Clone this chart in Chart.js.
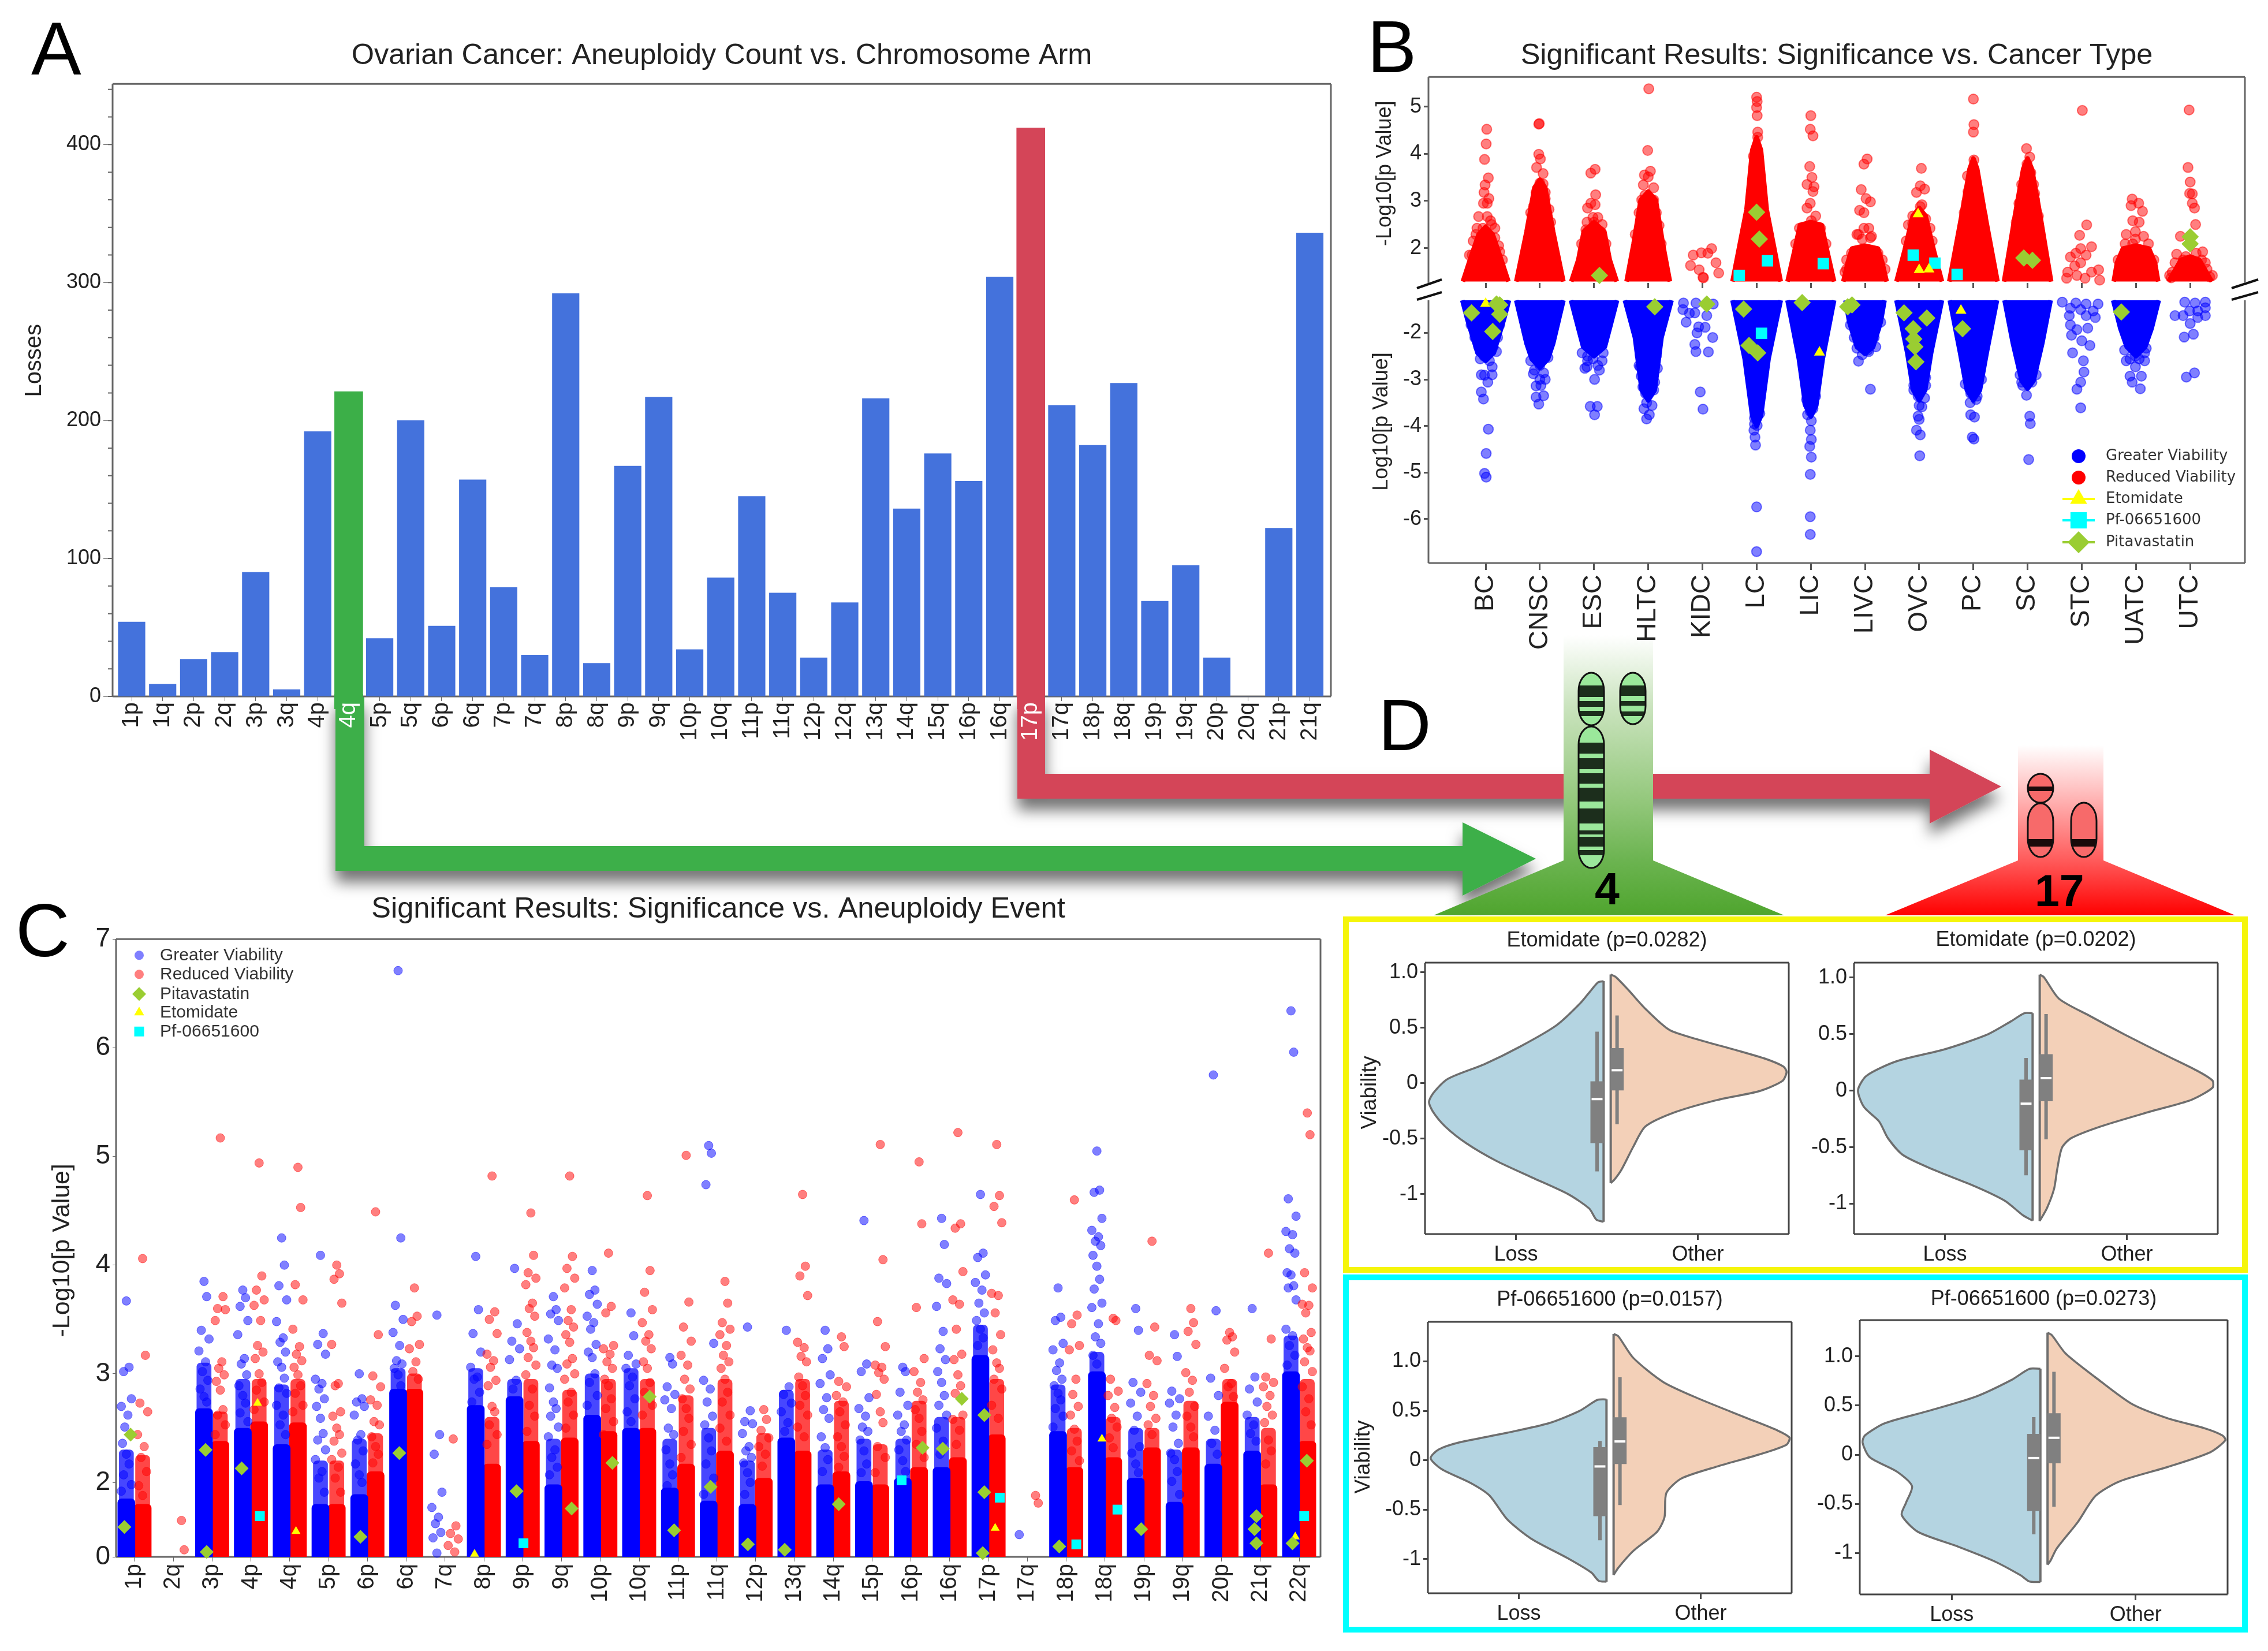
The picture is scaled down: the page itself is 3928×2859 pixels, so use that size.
<!DOCTYPE html>
<html>
<head>
<meta charset="utf-8">
<title>Aneuploidy figure</title>
<script src="https://cdn.jsdelivr.net/npm/chart.js@4/dist/chart.umd.js"></script>
<style>
  html, body { margin: 0; background: #fff; }
  #page { position: relative; width: 3928px; height: 2859px; overflow: hidden; background: #fff; font-family: "Liberation Sans", Arial, sans-serif; }
  #page canvas, #art { position: absolute; }
  .tag { position: absolute; line-height: 1; color: #000; }
</style>
</head>
<body>
<div id="page">
  <svg id="art" width="3928" height="2859" style="left:0;top:0"></svg>
  <div class="tag" style="left:54px;top:19px;font-size:130px">A</div>
  <div class="tag" style="left:2368px;top:17px;font-size:128px">B</div>
  <div class="tag" style="left:27px;top:1546px;font-size:130px">C</div>
  <div class="tag" style="left:2387px;top:1192px;font-size:127px">D</div>
  <div class="tag" style="left:2762px;top:1501px;font-size:77px;font-weight:bold">4</div>
  <div class="tag" style="left:3524px;top:1504px;font-size:77px;font-weight:bold">17</div>
</div>
<script>
// ---- panel A: losses per chromosome arm
const armLabels = ['1p','1q','2p','2q','3p','3q','4p','4q','5p','5q','6p','6q','7p','7q','8p','8q','9p','9q','10p','10q','11p','11q','12p','12q','13q','14q','15q','16p','16q','17p','17q','18p','18q','19p','19q','20p','20q','21p','21q'];
const armLosses = [54,9,27,32,90,5,192,221,42,200,51,157,79,30,292,24,167,217,34,86,145,75,28,68,216,136,176,156,304,412,211,182,227,69,95,28,0,122,336];
const armHighlights = ['4q','17p'];
const armHighlightColors = ['#3CAF48','#D44558'];

// ---- panel B: cancer types, dense swarm outlines (half widths in category units)
const cancerTypes = ['BC','CNSC','ESC','HLTC','KIDC','LC','LIC','LIVC','OVC','PC','SC','STC','UATC','UTC'];
const bRedBaseW = [.44,.455,.44,.42,null,.465,.45,.42,.44,.465,.455,null,.43,.42];
const bRedMidY  = [1.75,2.35,1.75,2.09,null,2.82,1.95,1.69,1.95,2.68,2.68,null,1.69,1.49];
const bRedMidW  = [.29,.245,.29,.27,null,.186,.30,.32,.27,.22,.235,null,.35,.30];
const bRedTopY  = [2.29,3.28,2.35,3.02,null,4.08,2.49,1.99,2.68,3.68,3.68,null,1.99,1.75];
const bRedTopW  = [.13,.1,.19,.14,null,.08,.2,.24,.12,.07,.08,null,.24,.17];
const bRedApexY = [2.45,3.45,2.55,3.2,null,4.35,2.55,2.05,2.85,3.9,3.9,null,2.05,1.82];
const bBlueBaseW = [.45,.455,.445,.45,null,.465,.45,.38,.44,.455,.445,null,.44,null];
const bBlueMidY  = [-1.70,-2.23,-1.9,-2.1,null,-2.56,-2.56,-1.77,-2.43,-2.43,-2.23,null,-1.9,null];
const bBlueMidW  = [.34,.245,.29,.245,null,.22,.22,.29,.22,.245,.27,null,.29,null];
const bBlueTipY  = [-2.43,-2.56,-2.3,-3.23,null,-3.79,-3.56,-2.3,-3.23,-3.23,-3.03,null,-2.3,null];
const bBlueTipW  = [.15,.15,.2,.12,null,.08,.1,.15,.11,.12,.11,null,.17,null];
const bBlueApexY = [-2.6,-2.75,-2.5,-3.45,null,-4,-3.8,-2.45,-3.45,-3.45,-3.2,null,-2.5,null];

const bRedDots = [
  [.02,4.52],[.01,4.21],[-.02,3.88],[.05,3.49],[-.01,3.34],[-.03,3.18],[.06,3.05],[.03,2.95],[-.04,2.95],[-.13,2.67],[.03,2.67],[-.16,2.42],[.11,2.5],[-.23,2.15],[-.25,1.85],[.17,2.22],[.26,1.92],
  [-.18,2.29],[.17,2.42],[.09,2.58],[-.05,2.42],[.04,2.29],[-.1,2.15],[.24,2.05],[-.3,1.85],[.31,1.75],
  [.98,4.63],[.99,4.64],[.98,3.99],[1.01,3.89],[.94,3.71],[1.06,3.58],[1.06,3.36],[.98,3.22],[1.1,3.18],
  [.93,3.18],[1.1,3.05],[.88,2.88],[1.17,2.82],[.83,2.75],[1.2,2.55],[1,3.38],
  [1.94,3.59],[2.02,3.67],[2.03,3.13],[1.94,2.95],[1.88,2.85],[2.02,2.92],[1.98,2.65],[1.87,2.55],[2.15,2.5],[1.85,2.39],
  [2.07,2.65],[1.88,2.35],[2.12,2.35],[1.77,2.09],[2.22,2.09],[2,2.55],
  [3.01,5.38],[2.99,4.07],[3.04,3.63],[2.93,3.55],[3,3.51],[2.91,3.34],[3.1,3.28],[2.94,3.12],[2.88,3.02],
  [3.1,3.02],[2.93,2.95],[3.15,2.75],[2.83,2.75],[3.2,2.48],[2.76,2.29],[3.24,2.09],
  [4.17,1.99],[3.98,1.9],[3.83,1.85],[4.1,1.89],[3.78,1.63],[4.25,1.69],[3.94,1.54],[4.3,1.47],[4.02,1.37],[4.01,1.38],
  [5,5.2],[5.01,5.11],[5,4.98],[5.01,4.81],[5.02,4.46],[5.02,4.35],[5.01,4.08],[4.96,3.81],[5.03,3.68],[4.94,3.95],
  [6,4.81],[5.99,4.52],[6.04,4.38],[5.98,3.73],[6.02,3.5],[5.93,3.35],[6.06,3.3],[6.04,3.2],[5.99,2.95],[5.93,2.85],[6.09,2.68],[6.01,2.58],
  [5.79,2.42],[6.18,2.42],[5.99,2.49],[5.72,2.09],[6.28,2.09],
  [7.04,3.89],[6.98,3.78],[6.93,3.24],[7.02,3.05],[7.1,2.98],[6.9,2.8],[6.98,2.75],[7.07,2.42],[6.98,2.42],[6.88,2.29],[7.12,2.25],[6.95,2.19],[6.66,1.55],
  [6.85,2.29],[7.1,2.22],[6.75,1.89],[7.24,1.89],[6.66,1.75],[7.32,1.75],[6.63,1.49],[7.37,1.55],
  [8.04,3.69],[8.02,3.32],[7.95,3.18],[8.1,3.25],[8.05,2.92],[7.88,2.52],[7.88,2.68],[8.12,2.62],[7.8,2.49],[8.2,2.42],[7.76,2.15],[8.24,2.15],[8.02,2.88],
  [9,5.16],[9.01,4.62],[9,4.46],[9.01,3.87],[8.98,3.55],[8.89,3.53],[8.95,3.35],[8.9,3.2],[9.05,3.15],[8.88,2.98],[8.9,3.02],[9.1,2.95],[8.83,2.75],[9.17,2.68],
  [9.98,4.11],[10.04,3.93],[9.99,3.78],[10.06,3.6],[9.96,3.45],[10.11,3.35],[10.13,3.16],[9.89,3.35],[10.13,3.02],[9.84,2.95],[10.2,2.68],[9.79,2.55],
  [11.01,4.92],[11.09,2.49],[10.96,2.27],[11.18,2.03],[10.98,1.99],[10.89,1.89],[10.79,1.81],[11.08,1.85],[10.74,1.49],[10.87,1.62],[10.98,1.69],[11.31,1.54],[11.18,1.49],[10.72,1.36],[10.91,1.42],[11.06,1.36],[11.33,1.32],
  [11.93,3.04],[12.05,2.95],[11.91,2.9],[12.12,2.78],[11.94,2.58],[12.06,2.55],[11.82,2.29],[12.14,2.25],[11.99,2.35],[11.94,2.09],[11.8,2.09],[12.23,2.09],[11.99,2.19],[11.67,1.75],[12.33,1.75],
  [12.98,4.93],[12.96,3.71],[13,3.4],[12.99,3.16],[13.04,3.15],[13.04,2.95],[13.08,2.85],[13.1,2.5],[12.82,2.25],[12.75,1.87],[12.92,1.82],[13.11,1.89],[13.23,1.92],[12.96,1.69],[12.67,1.49],[13.31,1.55],[12.82,1.55],[13.11,1.62],[13.36,1.39],[12.65,1.37],
  [12.87,1.75],[13.21,1.75],[12.72,1.69],[13.28,1.69],[12.62,1.42],[13.41,1.42]
];
const bBlueDots = [
  [.2,-2.4],[.12,-2.73],[-.08,-2.9],[-.02,-2.91],[.04,-3.06],[-.08,-3.27],[-.04,-3.42],[.05,-4.07],[.01,-4.59],[-.02,-5.02],[.01,-5.1],[-.1,-2.56],[.12,-2.9],
  [-.27,-1.83],[.26,-1.83],[-.2,-2.1],[.22,-2.1],[-.13,-2.3],[.14,-2.3],[-.03,-2.5],[.07,-2.6],
  [.88,-2.88],[1.1,-3],[.93,-3.14],[1.02,-3.13],[.93,-3.38],[1.07,-3.35],[.98,-3.53],[.83,-2.6],[1.15,-2.53],[1,-2.7],[.9,-2.8],[1.07,-2.86],[1,-3],
  [1.87,-2.73],[2.1,-2.8],[2.01,-3],[1.93,-3.58],[2.06,-3.58],[2.01,-3.76],[1.88,-2.5],[2.15,-2.6],[1.78,-2.43],[2.17,-2.43],[1.88,-2.6],[2.07,-2.7],[1.98,-2.56],[1.83,-2.76],
  [2.85,-2.73],[2.87,-2.93],[3.12,-3.06],[2.9,-3.16],[2.99,-3.31],[2.97,-3.5],[3.07,-3.56],[2.92,-3.63],[3.02,-3.76],[2.97,-3.85],[2.85,-2.47],[3.15,-2.5],[2.83,-2.7],[3.17,-2.76],[2.95,-3.3],[3.1,-3.23],
  [3.65,-1.36],[3.88,-1.36],[4.2,-1.38],[3.64,-1.5],[3.76,-1.58],[3.86,-1.57],[4.08,-1.63],[3.7,-1.77],[3.93,-1.87],[4.05,-1.88],[3.9,-2],[4.19,-2.1],[3.86,-2.25],[3.88,-2.4],[4.11,-2.41],[3.96,-3.27],[4.01,-3.64],
  [4.96,-3.96],[5.01,-3.99],[4.95,-4.09],[4.97,-4.24],[4.98,-4.41],[5,-5.74],[5,-6.7],[4.96,-3.83],[5.06,-3.73],
  [5.94,-3.5],[6.04,-3.63],[5.94,-3.76],[6.01,-3.89],[5.99,-4.09],[6.01,-4.29],[5.98,-4.44],[6.01,-4.67],[5.99,-5.04],[5.99,-5.95],[5.99,-6.33],[6.09,-3.36],[5.92,-3.43],[5.99,-3.69],
  [7.1,-3.21],[6.88,-2.61],[6.95,-2.47],[7.07,-2.4],[7.2,-2.3],[7.17,-2.1],[6.73,-1.83],[7.29,-1.77],[6.8,-2.1],[7.2,-1.9],[6.85,-2.33],[7.05,-2.37],
  [8.02,-2.96],[7.9,-3.13],[8.1,-3.4],[8,-3.56],[7.98,-3.79],[7.95,-4.09],[8.02,-4.19],[8.01,-4.64],[8.12,-3.13],[7.9,-3.23],[8.12,-2.96],[7.98,-3.36],[8.05,-3.59],[8,-3.86],
  [8.93,-3.1],[9.07,-3.36],[8.94,-3.5],[8.95,-3.76],[9.02,-3.81],[8.98,-4.24],[9.01,-4.28],[8.85,-3.1],[9.15,-3],[8.95,-3.3],[9.05,-3.43],
  [9.91,-3.13],[9.98,-3.34],[10.04,-3.79],[10.05,-3.95],[10.02,-4.72],[9.86,-2.9],[10.16,-2.9],[9.89,-3.06],[10.08,-3.06],
  [10.64,-1.34],[10.89,-1.36],[11.08,-1.38],[11.3,-1.38],[10.79,-1.47],[10.98,-1.5],[11.21,-1.53],[11.08,-1.63],[10.77,-1.63],[11.25,-1.67],[10.79,-1.83],[10.91,-1.93],[11.11,-1.9],[10.81,-2.05],[11,-2.17],[11.15,-2.27],[10.83,-2.43],[11.03,-2.6],[11.04,-2.84],[10.98,-3.06],[10.91,-3.21],[10.98,-3.61],
  [11.89,-2.56],[12.16,-2.43],[12.06,-2.56],[11.89,-2.93],[12.1,-2.93],[11.93,-3.06],[12.08,-3.2],[11.99,-2.73],[11.79,-2.37],[12.19,-2.33],[11.82,-2.6],[12.16,-2.6],[11.99,-2.5],
  [12.9,-1.34],[13.09,-1.36],[13.28,-1.34],[13.28,-1.46],[12.99,-1.53],[13.14,-1.53],[12.72,-1.63],[12.87,-1.63],[13.14,-1.67],[13.28,-1.63],[13,-1.8],[12.89,-2.09],[13.06,-2.03],[12.93,-2.95],[13.08,-2.86]
];
const bPitaDots = [[-.26,-1.57],[.26,-1.4],[.2,-1.38],[.26,-1.6],[.13,-1.97],[2.1,1.42],[3.12,-1.44],[4.08,-1.38],[5,2.76],[5.05,2.19],[4.76,-1.49],[4.86,-2.27],[5.02,-2.43],[5.84,-1.35],[6.76,-1.4],[6.68,-1.44],[7.72,-1.57],[8.14,-1.68],[7.89,-1.91],[7.9,-2.13],[7.92,-2.3],[7.94,-2.62],[8.8,-1.91],[9.93,1.79],[10.09,1.74],[11.73,-1.55],[13,2.24],[13,2.09]];
const bEtoDots = [[0,-1.37],[6.16,-2.42],[7.98,2.72],[8,1.54],[8.18,1.55],[8.77,-1.52]];
const bPfDots = [[4.68,1.42],[5.2,1.73],[5.09,-2.01],[6.23,1.67],[7.89,1.85],[8.29,1.68],[8.7,1.44]];

// ---- panel C: aneuploidy events, solid column, thinner half dense column, then loose points above
const eventLabels = ['1p','2q','3p','4p','4q','5p','6p','6q','7q','8p','9p','9q','10p','10q','11p','11q','12p','13q','14q','15p','16p','16q','17p','17q','18p','18q','19p','19q','20p','21q','22q'];
const cBlueTop = [1.85,null,2.68,2.5,2.35,1.8,1.89,2.86,null,2.71,2.79,1.98,2.62,2.5,1.95,1.83,1.8,2.41,1.98,2.01,2.04,2.14,3.17,null,2.47,3.02,2.04,1.82,2.17,2.29,3.02];
const cRedTop  = [1.8,null,2.38,2.56,2.55,1.8,2.1,2.86,null,2.17,2.38,2.41,2.47,2.5,2.17,2.29,2.04,2.29,2.1,1.98,2.14,2.23,2.44,null,2.14,2.23,2.32,2.32,2.74,1.98,2.38];
const cBlueHalf = [2.3,null,3.1,2.95,2.9,2.2,2.4,3.05,null,3.05,2.95,2.4,3,3.05,2.4,2.5,2.2,2.85,2.3,2.4,2.4,2.6,3.45,null,2.9,3.2,2.5,2.3,2.4,2.6,3.35];
const cRedHalf  = [2.25,null,2.65,2.95,2.95,2.2,2.45,3,null,2.6,2.95,2.85,2.95,2.95,2.8,2.95,2.45,2.95,2.75,2.35,2.75,2.6,2.95,null,2.5,2.6,2.5,2.75,2.95,2.5,2.95];
const cBlueDots = [
  [3.67,3.06,3.02,2.77,2.7,2.62,2.51,2.44,2.36,2.26,2.17,2.07,1.98,1.92],
  [],
  [3.85,3.71,3.4,3.32,3.21,3.11,3.02,2.94,2.86,2.79,2.74],
  [3.77,3.7,3.62,3.49,3.36,3.14,3.09,2.99,2.89,2.8,2.73,2.64,2.56],
  [4.25,4,3.81,3.68,3.48,3.33,3.29,3.2,3.11,3.06,2.96,2.87,2.82,2.71,2.62,2.53,2.44],
  [4.09,3.37,3.27,3.18,2.95,2.91,2.86,2.77,2.7,2.59,2.45,2.39,2.3,2.21,2.1,2.04,1.91],
  [3,2.77,2.74,2.7,2.62,2.44,2.39,2.29,2.17,2.07,2],
  [6.71,4.25,3.63,3.5,3.38,3.26,3.12,3.09,3.05,2.99,2.89],
  [3.54,2.44,2.26,1.91,1.77,1.68,1.62,1.54,1.49,1.35],
  [4.08,3.59,3.37,3.2,3.06,2.97,2.95,2.83,2.74],
  [3.97,3.46,3.3,3.23,3.13,2.94,2.86],
  [3.71,3.59,3.55,3.49,3.32,3.22,3.08,3.05,2.87,2.74,2.68,2.61,2.51,2.42,2.3,2.23,2.14,2.07],
  [3.95,3.77,3.73,3.64,3.53,3.47,3.41,3.27,3.2,3.15,3,2.92,2.8,2.71],
  [3.56,3.35,3.17,3.09,3.05,2.97,2.89,2.77,2.65,2.56],
  [3.15,3.09,2.88,2.81,2.76,2.68,2.5,2.44,2.3,2.17,2.07,1.97],
  [5.1,5.03,4.74,3.28,2.94,2.86,2.74,2.61,2.53,2.41,2.29,2.17,2.04,1.89],
  [3.43,2.66,2.56,2.54,2.45,2.33,2.29,2.23,2.18,2.09,2,1.89],
  [3.4,2.88,2.81,2.73,2.65,2.55,2.47],
  [3.4,3.23,3.14,2.99,2.91,2.78,2.67,2.59,2.42,2.32,2.21,2.1],
  [4.41,3.09,3.02,2.78,2.68,2.61,2.51,2.47,2.39,2.29,2.17,2.09],
  [3.06,3.02,2.83,2.71,2.62,2.53,2.47,2.39,2.3,2.2,2.1],
  [4.43,4.19,3.88,3.83,3.62,3.39,3.23,3.13,3.02,2.92,2.8,2.71,2.62,2.5,2.38,2.26],
  [4.65,4.11,4.07,3.91,3.84,3.77,3.65,3.56,3.49,3.41,3.33,3.26],
  [1.52],
  [3.79,3.52,3.49,3.28,3.22,3.1,3.03,2.95,2.89,2.82,2.76,2.68,2.61,2.51],
  [5.05,4.69,4.67,4.43,4.32,4.26,4.22,4.18,4.09,3.99,3.87,3.78,3.65,3.61,3.46,3.34,3.28,3.17,3.09],
  [3.6,3.4,2.92,2.83,2.73,2.61,2.48,2.33,2.27,2.17,2.09],
  [3.36,3.16,2.84,2.77,2.73,2.62,2.51,2.36,2.27,2.21,2.1,2.01,1.89],
  [5.75,3.58,2.96,2.8,2.61,2.48,2.36,2.26],
  [3.6,2.97,2.86,2.74,2.62,2.53,2.45,2.38],
  [6.34,5.96,4.61,4.45,4.31,4.28,4.15,4.11,3.93,3.91,3.81,3.79,3.68,3.41,3.35,3.26,3.17,3.08]
];
const cRedDots = [
  [4.06,3.17,2.73,2.65,2.44,2.33,2.23,2.1,1.97,1.88],
  [1.65,1.38],
  [5.17,3.71,3.6,3.59,3.49,3.11,3.05,2.99,2.93,2.85,2.67,2.62,2.53,2.44],
  [4.94,3.9,3.77,3.68,3.63,3.49,3.26,3.2,3.14,3,2.92,2.85,2.74,2.67],
  [4.9,4.53,3.82,3.68,3.41,3.25,3.18,3.12,3.06,2.99,2.89,2.82,2.71,2.65],
  [4,3.92,3.87,3.65,3.27,2.91,2.89,2.65,2.61,2.5,2.44,2.38,2.27,2.21,2.14,2.04,1.91],
  [4.49,3.36,2.98,2.88,2.76,2.71,2.56,2.53,2.42,2.33,2.26,2.18],
  [3.79,3.53,3.48,3.27,3.23,3.11,3.02,2.95],
  [2.4,1.6,1.53,1.48,1.42,1.36],
  [4.82,3.57,3.5,3.37,3.18,3.12,3.06,2.94,2.89,2.7,2.65,2.53,2.44,2.35],
  [4.48,4.09,3.93,3.88,3.82,3.65,3.6,3.53,3.38,3.3,3.24,3.15,3.08,2.99,2.86,2.71,2.61,2.47],
  [4.82,4.08,3.97,3.88,3.79,3.59,3.49,3.43,3.36,3.29,3.14,3.09,3,2.95,2.83,2.74,2.62,2.5],
  [4.11,3.62,3.56,3.26,3.23,3.18,3.11,3.05,2.95,2.89,2.77,2.68,2.56,2.44],
  [4.64,3.95,3.75,3.59,3.47,3.36,3.3,3.23,3.11,3.05,2.92,2.83,2.71,2.62],
  [5.01,3.66,3.43,3.3,3.17,3.08,2.95,2.86,2.77,2.68,2.59,2.47,2.35,2.23],
  [3.85,3.65,3.47,3.41,3.36,3.26,3.17,3.11,3.05,2.95,2.83,2.74,2.62,2.5,2.38],
  [2.67,2.58,2.48,2.41,2.33,2.26,2.15],
  [4.65,3.99,3.9,3.72,3.29,3.24,3.16,3.11,2.97,2.89,2.8,2.71,2.62,2.51,2.42],
  [3.34,3.25,2.93,2.88,2.8,2.74,2.65,2.53,2.42,2.33,2.24,2.14],
  [5.11,4.05,3.48,3.25,3.08,3.06,3.01,2.95,2.81,2.65,2.55,2.33,2.23,2.09],
  [4.95,4.38,3.61,3.14,3.02,2.92,2.83,2.76,2.67,2.59,2.47,2.35,2.23],
  [5.22,4.38,4.34,3.94,3.68,3.64,3.41,3.18,3.13,2.99,2.89,2.82,2.62,2.58,2.48,2.35],
  [5.11,4.64,4.54,4.39,3.74,3.72,3.56,3.36,3.22,3.1,3.05,2.95,2.86,2.71,2.59],
  [1.88,1.81],
  [4.6,3.54,3.46,3.26,3.22,2.95,2.81,2.7,2.62,2.49,2.38,2.29,2.2],
  [3.51,3.49,2.95,2.84,2.8,2.69,2.59,2.51,2.41,2.32],
  [4.22,3.43,3.17,3.12,2.91,2.8,2.7,2.59,2.53,2.44],
  [3.6,3.47,3.39,3.27,3.01,2.94,2.83,2.7,2.61,2.51,2.42],
  [3.38,3.34,3.31,3.2,3.05,2.91,2.88,2.79],
  [4.11,3.32,2.97,2.92,2.88,2.8,2.7,2.62,2.55,2.39,2.29,2.17],
  [5.4,5.2,3.93,3.79,3.64,3.63,3.56,3.38,3.32,3.24,3.21,3.11,3.02,2.88,2.77,2.65,2.53]
];
const cPitaDots = [[-.26,1.59],[-.1,2.44],[1.86,1.36],[1.83,2.3],[2.76,2.13],[5.82,1.5],[6.82,2.27],[9.84,1.92],[11.26,1.76],[12.31,2.18],[13.27,2.79],[13.9,1.56],[14.84,1.96],[15.8,1.43],[16.75,1.38],[18.14,1.8],[20.3,2.32],[20.82,2.31],[21.31,2.77],[21.89,2.62],[21.89,1.91],[21.85,1.35],[23.82,1.41],[25.93,1.57],[28.9,1.69],[28.85,1.57],[28.9,1.44],[29.83,1.44],[30.2,2.2]];
const cEtoDots = [[3.17,2.73],[4.16,1.55],[8.76,1.34],[22.17,1.58],[24.92,2.4],[29.9,1.5]];
const cPfDots = [[3.23,1.69],[10.02,1.44],[19.76,2.02],[22.29,1.86],[24.26,1.43],[25.32,1.75],[30.13,1.69]];
const swarmOffset = [0,.07,-.07,.13,-.13,.04,-.04,.1,-.1];

// ---- panel D violins. Y = viability, W = half violin width on the x axis
const v1LossY = [.92,.91,.85,.72,.52,.33,.17,.04,-.09,-.17,-.26,-.39,-.54,-.70,-.85,-1,-1.13,-1.23,-1.25];
const v1LossW = [0,.03,.063,.129,.261,.459,.657,.855,.937,.96,.937,.871,.756,.59,.393,.195,.079,.04,0];
const v1OtherY = [.98,.96,.85,.67,.48,.39,.30,.22,.15,.10,.02,-.07,-.15,-.26,-.39,-.57,-.78,-.87,-.90];
const v1OtherW = [0,.026,.092,.191,.323,.488,.686,.851,.95,.967,.944,.82,.588,.356,.191,.125,.059,.02,0];
const v1LossBox = [-.795,-.54,-.143,.017,.465];
const v1OtherBox = [-.37,-.065,.117,.317,.61];

const v2LossY = [.685,.685,.613,.494,.366,.26,.132,.004,-.145,-.272,-.421,-.57,-.698,-.847,-.974,-1.102,-1.149];
const v2LossW = [0,.046,.119,.252,.483,.748,.913,.96,.927,.844,.795,.712,.546,.315,.152,.053,0];
const v2OtherY = [1.026,1.004,.813,.664,.494,.306,.174,.089,.026,-.081,-.187,-.315,-.421,-.506,-.698,-.868,-1.038,-1.153];
const v2OtherW = [0,.023,.106,.272,.47,.702,.868,.95,.95,.834,.603,.338,.172,.122,.096,.079,.04,0];
const v2LossBox = [-.749,-.528,-.115,.098,.289];
const v2OtherBox = [-.43,-.094,.111,.323,.677];

const v3LossY = [.615,.61,.498,.376,.278,.18,.107,.02,-.088,-.234,-.356,-.6,-.795,-.99,-1.137,-1.22,-1.229];
const v3LossW = [0,.05,.149,.314,.545,.809,.924,.967,.908,.743,.644,.545,.413,.215,.083,.043,0];
const v3OtherY = [1.278,1.254,1.034,.79,.62,.424,.302,.229,.156,.059,-.063,-.185,-.332,-.576,-.722,-.917,-1.088,-1.161];
const v3OtherW = [0,.026,.109,.274,.472,.736,.9,.967,.95,.802,.571,.373,.29,.28,.24,.109,.026,0];
const v3LossBox = [-.81,-.566,-.063,.132,.195];
const v3OtherBox = [-.454,-.039,.19,.434,.839];

const v4LossY = [.873,.873,.76,.588,.441,.319,.196,.123,-.025,-.172,-.319,-.49,-.613,-.784,-.931,-1.078,-1.225,-1.289,-1.294];
const v4LossW = [0,.059,.157,.354,.616,.846,.954,.967,.928,.78,.698,.731,.754,.666,.452,.256,.108,.059,0];
const v4OtherY = [1.24,1.216,1.029,.784,.515,.368,.27,.196,.147,.025,-.123,-.27,-.417,-.686,-.956,-1.078,-1.118];
const v4OtherW = [0,.023,.098,.262,.459,.656,.852,.951,.967,.885,.656,.393,.262,.164,.049,.016,0];
const v4LossBox = [-.809,-.574,-.034,.211,.382];
const v4OtherBox = [-.529,-.088,.172,.422,.843];

const violinTicks = [-1,-.5,0,.5,1];
const violinGroups = ['Loss','Other'];

const BLUE = 'rgba(0,0,255,.5)', RED = 'rgba(255,0,0,.5)';
const PITA = '#9ACD32', ETO = '#FFFF00', PF = '#00FFFF';

Chart.defaults.font.family = '"Liberation Sans", Arial, sans-serif';
Chart.defaults.color = '#222';
Chart.defaults.animation = false;

// frame, minor ticks, side label and inset key live here so all panels share them
const panelExtras = {
  id: 'panelExtras',
  beforeDatasetsDraw(chart, args, o) {
    const { ctx, chartArea: a } = chart;
    ctx.save();
    ctx.strokeStyle = o.frameColor || '#666';
    ctx.lineWidth = o.frameWidth || 3;
    const sides = o.sides || 'ltrb';
    ctx.beginPath();
    if (sides.includes('l')) { ctx.moveTo(a.left, a.top); ctx.lineTo(a.left, a.bottom); }
    if (sides.includes('r')) { ctx.moveTo(a.right, a.top); ctx.lineTo(a.right, a.bottom); }
    if (sides.includes('t')) { ctx.moveTo(a.left, a.top); ctx.lineTo(a.right, a.top); }
    if (sides.includes('b')) { ctx.moveTo(a.left, a.bottom); ctx.lineTo(a.right, a.bottom); }
    ctx.stroke();
    if (o.minorStep) {
      const y = chart.scales.y;
      ctx.beginPath();
      for (let v = 0; v <= y.max; v += o.minorStep) {
        ctx.moveTo(a.left, y.getPixelForValue(v));
        ctx.lineTo(a.left - 8, y.getPixelForValue(v));
      }
      ctx.lineWidth = 2;
      ctx.stroke();
    }
    ctx.restore();
  },
  afterDatasetsDraw(chart, args, o) {
    const { ctx, chartArea: a } = chart;
    (o.stems || []).forEach(s => {
      ctx.fillStyle = s.color;
      ctx.fillRect(chart.scales.x.getPixelForValue(s.index) - s.half, a.bottom - 4, s.half * 2, 26);
    });
  },
  afterDraw(chart, args, o) {
    const { ctx } = chart;
    const box = chart.canvas.getBoundingClientRect();
    const page = chart.canvas.parentNode.getBoundingClientRect();
    const ox = box.left - page.left, oy = box.top - page.top;
    ctx.save();
    if (o.side) {
      ctx.translate(o.side.x - ox, o.side.y - oy);
      ctx.rotate(-Math.PI / 2);
      ctx.font = o.side.size + 'px "Liberation Sans", Arial, sans-serif';
      ctx.fillStyle = '#222';
      ctx.textAlign = 'center';
      ctx.textBaseline = 'middle';
      ctx.fillText(o.side.text, 0, 0);
    }
    ctx.restore();
    ctx.save();
    (o.key || []).forEach(k => {
      const x = k.x - ox, y = k.y - oy;
      if (k.wing) {
        ctx.strokeStyle = k.color;
        ctx.lineWidth = 4;
        ctx.beginPath();
        ctx.moveTo(x - k.wing, y);
        ctx.lineTo(x + k.wing, y);
        ctx.stroke();
      }
      ctx.fillStyle = k.color;
      Chart.helpers.drawPoint(ctx, { pointStyle: k.style, radius: k.radius, rotation: 0, borderWidth: 0 }, x, y);
      ctx.font = k.font;
      ctx.fillStyle = '#333';
      ctx.textAlign = 'left';
      ctx.textBaseline = 'middle';
      ctx.fillText(k.label, k.textX - ox, y);
    });
    ctx.restore();
  }
};

function fixHeight(h) {
  return s => { s.height = h; s.paddingLeft = 0; s.paddingRight = 0; s.paddingTop = 0; s.paddingBottom = 0; };
}
function fixWidth(w) {
  return s => { s.width = w; s.paddingTop = 0; s.paddingBottom = 0; s.paddingLeft = 0; s.paddingRight = 0; };
}
function setTicks(values) {
  return s => { s.ticks = values.map(value => ({ value })); };
}

// plot = [left, top, width, height] in page pixels, so each frame lands where the figure has it
function panel({ plot, left, right, bottom, top = 0, title, type = 'scatter', data, scales, extras, labels }) {
  const [px, py, pw, ph] = plot;
  const canvas = document.createElement('canvas');
  const cTop = title ? title.y - title.size / 2 : py - top;
  const cH = py + ph + bottom - cTop;
  canvas.width = pw + left + right;
  canvas.height = cH;
  canvas.style.cssText = `left:${px - left}px;top:${cTop}px;width:${pw + left + right}px;height:${cH}px`;
  document.getElementById('page').appendChild(canvas);
  scales.x.afterFit = fixHeight(bottom);
  scales.y.afterFit = fixWidth(left);
  return new Chart(canvas, {
    type,
    data: { labels, datasets: data },
    options: {
      responsive: false,
      devicePixelRatio: 1,
      layout: { padding: { left: 0, right, top: title ? 0 : top, bottom: 0 } },
      scales,
      plugins: {
        legend: { display: false },
        tooltip: { enabled: false },
        title: title ? {
          display: true, text: title.text, fullSize: false, color: '#222',
          font: { size: title.size, weight: 'normal', lineHeight: 1 },
          padding: { top: 0, bottom: py - title.y - title.size / 2 }
        } : { display: false },
        panelExtras: extras
      }
    },
    plugins: [panelExtras]
  });
}

function dots(points, color, radius, style = 'circle', border = 0, order = 5) {
  return {
    data: points.map(p => ({ x: p[0], y: p[1] })),
    showLine: false, clip: false, order,
    pointStyle: style, pointRadius: radius,
    pointBackgroundColor: color, pointBorderColor: color, pointBorderWidth: border
  };
}
function shape(points, color, line, order, tension = 0) {
  return {
    data: points.map(p => ({ x: p[0], y: p[1] })),
    showLine: true, fill: 'shape', clip: false, order, tension,
    backgroundColor: color, borderColor: line, borderWidth: 8, borderJoinStyle: 'round',
    pointRadius: 0
  };
}
function seg(x1, y1, x2, y2, color, width, order) {
  return {
    data: [{ x: x1, y: y1 }, { x: x2, y: y2 }],
    showLine: true, fill: false, clip: false, order,
    borderColor: color, borderWidth: width, borderCapStyle: 'butt', pointRadius: 0
  };
}

// ---- panel A
const armIsHot = a => armHighlights.includes(a);
panel({
  plot: [195, 145, 2110, 1061], left: 159, right: 10, bottom: 110, type: 'bar',
  title: { text: 'Ovarian Cancer: Aneuploidy Count vs. Chromosome Arm', size: 50.5, y: 97 },
  data: [
    {
      data: armLosses.map((y, x) => ({ x, y })).filter(p => !armIsHot(armLabels[p.x])),
      backgroundColor: '#4472DC', barThickness: 46.5, grouped: false
    },
    {
      data: armLosses.map((y, x) => ({ x, y })).filter(p => armIsHot(armLabels[p.x])),
      backgroundColor: armHighlightColors, barThickness: 49, grouped: false
    }
  ],
  scales: {
    x: {
      type: 'linear', offset: false, min: -.615, max: 38.68,
      afterBuildTicks: setTicks(armLabels.map((n, i) => i)),
      grid: { offset: false, drawOnChartArea: false, tickLength: 8, tickColor: '#666' }, border: { display: false },
      ticks: {
        autoSkip: false, minRotation: 90, maxRotation: 90, padding: 2, z: 1,
        font: { size: 40 }, callback: v => armLabels[v],
        color: c => armIsHot(armLabels[c.index]) ? '#fff' : '#222'
      }
    },
    y: {
      min: 0, max: 444, afterBuildTicks: setTicks([0, 100, 200, 300, 400]),
      grid: { drawOnChartArea: false, tickLength: 16, tickColor: '#666' }, border: { display: false },
      ticks: { font: { size: 36 }, padding: 4 }
    }
  },
  extras: {
    sides: 'ltrb', minorStep: 20,
    stems: [{ index: 7, half: 25, color: '#3CAF48' }, { index: 29, half: 24, color: '#D44558' }],
    side: { text: 'Losses', x: 60, y: 624, size: 40 }
  }
});

// ---- panel B: the y axis is broken, so upper and lower parts are two charts sharing the x axis
function swarmOutline(c, base, b, midY, midW, topY, topW, apexY) {
  return [[c - b, base], [c - midW, midY], [c - topW, topY], [c, apexY], [c + topW, topY], [c + midW, midY], [c + b, base]];
}
const bUpper = [];
const bLower = [];
cancerTypes.forEach((name, c) => {
  if (bRedBaseW[c] !== null) bUpper.push(shape(swarmOutline(c, 1.29, bRedBaseW[c] - .02, bRedMidY[c], bRedMidW[c], bRedTopY[c], bRedTopW[c], bRedApexY[c]), '#FF0000', '#FF0000', 6));
  if (bBlueBaseW[c] !== null) bLower.push(shape(swarmOutline(c, -1.3, bBlueBaseW[c] - .02, bBlueMidY[c], bBlueMidW[c], bBlueTipY[c], bBlueTipW[c], bBlueApexY[c]), '#0000FF', '#0000FF', 6));
});
const isUp = p => p[1] > 0, isDown = p => p[1] < 0;
bUpper.push(
  dots(bRedDots, RED, 8.5, 'circle', 2),
  dots(bPitaDots.filter(isUp), PITA, 15, 'rectRot', 0, 1),
  dots(bEtoDots.filter(isUp), ETO, 11, 'triangle', 0, 1),
  dots(bPfDots.filter(isUp), PF, 14, 'rect', 0, 1)
);
bLower.push(
  dots(bBlueDots, BLUE, 8.5, 'circle', 2),
  dots(bPitaDots.filter(isDown), PITA, 15, 'rectRot', 0, 1),
  dots(bEtoDots.filter(isDown), ETO, 11, 'triangle', 0, 1),
  dots(bPfDots.filter(isDown), PF, 14, 'rect', 0, 1)
);
const bTickIdx = cancerTypes.map((n, i) => i);
function bAxisX(showLabels) {
  return {
    type: 'linear', min: -1.055, max: 14.01,
    afterBuildTicks: setTicks(bTickIdx),
    grid: { drawOnChartArea: false, tickLength: showLabels ? 12 : 9, tickColor: '#555', tickWidth: 3 },
    border: { display: false },
    ticks: showLabels
      ? { autoSkip: false, minRotation: 90, maxRotation: 90, padding: 8, font: { size: 46 }, callback: v => cancerTypes[v] }
      : { display: false }
  };
}
panel({
  plot: [2474, 133, 1414, 358], left: 130, right: 30, bottom: 14,
  title: { text: 'Significant Results: Significance vs. Cancer Type', size: 50.5, y: 97 },
  data: bUpper,
  scales: {
    x: bAxisX(false),
    y: {
      min: 1.26, max: 5.63, afterBuildTicks: setTicks([2, 3, 4, 5]),
      grid: { drawOnChartArea: false, tickLength: 8, tickColor: '#555', tickWidth: 3 }, border: { display: false },
      ticks: { font: { size: 36 }, padding: 4 }
    }
  },
  extras: { sides: 'ltr', side: { text: '-Log10[p Value]', x: 2399, y: 300, size: 36 } }
});
panel({
  plot: [2474, 515, 1414, 460], left: 130, right: 30, top: 10, bottom: 170,
  data: bLower,
  scales: {
    x: bAxisX(true),
    y: {
      min: -6.945, max: -1.30, afterBuildTicks: setTicks([-6, -5, -4, -3, -2]),
      grid: { drawOnChartArea: false, tickLength: 8, tickColor: '#555', tickWidth: 3 }, border: { display: false },
      ticks: { font: { size: 36 }, padding: 4 }
    }
  },
  extras: {
    sides: 'lrb', side: { text: 'Log10[p Value]', x: 2393, y: 730, size: 36 },
    key: [
      { label: 'Greater Viability', color: '#0000FF', style: 'circle', radius: 12, x: 3600, y: 790, textX: 3647, font: '26px "DejaVu Sans"' },
      { label: 'Reduced Viability', color: '#FF0000', style: 'circle', radius: 12, x: 3600, y: 827, textX: 3647, font: '26px "DejaVu Sans"' },
      { label: 'Etomidate', color: ETO, style: 'triangle', radius: 17, wing: 28, x: 3600, y: 864, textX: 3647, font: '26px "DejaVu Sans"' },
      { label: 'Pf-06651600', color: PF, style: 'rect', radius: 20, wing: 28, x: 3600, y: 901, textX: 3647, font: '26px "DejaVu Sans"' },
      { label: 'Pitavastatin', color: PITA, style: 'rectRot', radius: 19, wing: 28, x: 3600, y: 939, textX: 3647, font: '26px "DejaVu Sans"' }
    ]
  }
});

// ---- panel C
const cBottom = 1.315;
function cColumn(tops, side, color, width, order) {
  return {
    type: 'bar',
    data: tops.map((t, i) => t === null ? null : { x: i + side, y: [cBottom, t] }).filter(Boolean),
    backgroundColor: color, barThickness: width, grouped: false, order, borderRadius: 7, borderSkipped: 'bottom'
  };
}
function cLoose(lists, side) {
  const out = [];
  lists.forEach((list, i) => list.forEach((y, j) => out.push([i + side + swarmOffset[j % swarmOffset.length], y])));
  return out;
}
panel({
  plot: [201, 1626, 2088, 1070], left: 150, right: 10, bottom: 110,
  title: { text: 'Significant Results: Significance vs. Aneuploidy Event', size: 50.5, y: 1575 },
  data: [
    cColumn(cBlueHalf, -.21, 'rgba(0,0,255,.72)', 25, 7),
    cColumn(cRedHalf, .21, 'rgba(255,0,0,.72)', 25, 7),
    cColumn(cBlueTop, -.21, '#0000FF', 30, 6),
    cColumn(cRedTop, .21, '#FF0000', 30, 6),
    dots(cLoose(cBlueDots, -.21), BLUE, 7.5, 'circle', 1, 5),
    dots(cLoose(cRedDots, .21), RED, 7.5, 'circle', 1, 4),
    dots(cPitaDots, PITA, 12, 'rectRot', 0, 1),
    dots(cEtoDots, ETO, 9, 'triangle', 0, 1),
    dots(cPfDots, PF, 12, 'rect', 0, 1)
  ],
  scales: {
    x: {
      type: 'linear', offset: false, min: -.475, max: 30.55,
      afterBuildTicks: setTicks(eventLabels.map((n, i) => i)),
      grid: { offset: false, drawOnChartArea: false, tickLength: 8, tickColor: '#666' }, border: { display: false },
      ticks: { autoSkip: false, minRotation: 90, maxRotation: 90, padding: 4, font: { size: 40 }, callback: v => eventLabels[v] }
    },
    y: {
      min: cBottom, max: 7, afterBuildTicks: setTicks([cBottom, 2, 3, 4, 5, 6, 7]),
      grid: { drawOnChartArea: false, tickLength: 6, tickColor: '#666' }, border: { display: false },
      ticks: { font: { size: 46 }, padding: 4, callback: v => v === cBottom ? '0' : v }
    }
  },
  extras: {
    sides: 'ltrb', side: { text: '-Log10[p Value]', x: 108, y: 2165, size: 43 },
    key: [
      { label: 'Greater Viability', color: BLUE, style: 'circle', radius: 8, x: 241, y: 1654, textX: 277, font: '30px "Liberation Sans"' },
      { label: 'Reduced Viability', color: RED, style: 'circle', radius: 8, x: 241, y: 1687, textX: 277, font: '30px "Liberation Sans"' },
      { label: 'Pitavastatin', color: PITA, style: 'rectRot', radius: 12, x: 241, y: 1721, textX: 277, font: '30px "Liberation Sans"' },
      { label: 'Etomidate', color: ETO, style: 'triangle', radius: 10, x: 241, y: 1753, textX: 277, font: '30px "Liberation Sans"' },
      { label: 'Pf-06651600', color: PF, style: 'rect', radius: 12, x: 241, y: 1786, textX: 277, font: '30px "Liberation Sans"' }
    ]
  }
});

// ---- panel D violins
function halfViolin(ys, ws, edge, dir, fill) {
  const pts = ys.map((y, i) => [edge + dir * ws[i], y]);
  return [
    shape(pts, fill, '#6E6E6E', 6, .25),
    seg(edge, ys[0], edge, ys[ys.length - 1], '#6E6E6E', 4, 5)
  ];
}
function boxMarks(b, x) {
  return [
    seg(x, b[0], x, b[4], '#808080', 6, 3),
    seg(x, b[1], x, b[3], '#808080', 23, 2),
    seg(x - .03, b[2], x + .03, b[2], '#FFFFFF', 4, 1)
  ];
}
function violin(cfg) {
  const d = [
    ...halfViolin(cfg.lossY, cfg.lossW, .482, -1, '#B4D4E1'),
    ...halfViolin(cfg.otherY, cfg.otherW, .521, 1, '#F3D0B8'),
    ...boxMarks(cfg.lossBox, .446),
    ...boxMarks(cfg.otherBox, .556)
  ];
  d.forEach(s => { if (s.fill === 'shape') s.borderWidth = 3.5; });
  panel({
    plot: cfg.plot, left: 130, right: 10, bottom: 70,
    title: { text: cfg.title, size: 36, y: cfg.titleY },
    data: d,
    scales: {
      x: {
        type: 'linear', min: -.5, max: 1.5, afterBuildTicks: setTicks([0, 1]),
        grid: { drawOnChartArea: false, tickLength: 10, tickColor: '#444', tickWidth: 3 }, border: { display: false },
        ticks: { font: { size: 36 }, padding: 4, maxRotation: 0, callback: v => violinGroups[v] }
      },
      y: {
        min: cfg.yMin, max: cfg.yMax, afterBuildTicks: setTicks(violinTicks),
        grid: { drawOnChartArea: false, tickLength: 8, tickColor: '#444', tickWidth: 3 }, border: { display: false },
        ticks: { font: { size: 36 }, padding: 4, callback: v => v === 1 ? '1.0' : v === .5 ? '0.5' : v }
      }
    },
    extras: { sides: 'ltrb', frameColor: '#444', frameWidth: 3, side: cfg.side }
  });
}
violin({ plot: [2468, 1667, 630, 470], title: 'Etomidate (p=0.0282)', titleY: 1629, yMin: -1.36, yMax: 1.087,
  lossY: v1LossY, lossW: v1LossW, otherY: v1OtherY, otherW: v1OtherW, lossBox: v1LossBox, otherBox: v1OtherBox,
  side: { text: 'Viability', x: 2373, y: 1892, size: 37 } });
violin({ plot: [3211, 1667, 630, 470], title: 'Etomidate (p=0.0202)', titleY: 1628, yMin: -1.268, yMax: 1.132,
  lossY: v2LossY, lossW: v2LossW, otherY: v2OtherY, otherW: v2OtherW, lossBox: v2LossBox, otherBox: v2OtherBox });
violin({ plot: [2473, 2289, 630, 470], title: 'Pf-06651600 (p=0.0157)', titleY: 2251, yMin: -1.346, yMax: 1.40,
  lossY: v3LossY, lossW: v3LossW, otherY: v3OtherY, otherW: v3OtherW, lossBox: v3LossBox, otherBox: v3OtherBox,
  side: { text: 'Viability', x: 2362, y: 2523, size: 37 } });
violin({ plot: [3221, 2286, 637, 475], title: 'Pf-06651600 (p=0.0273)', titleY: 2250, yMin: -1.42, yMax: 1.368,
  lossY: v4LossY, lossW: v4LossW, otherY: v4OtherY, otherW: v4OtherW, lossBox: v4LossBox, otherBox: v4OtherBox });

// ---- arrows, chromosome glyphs and coloured frames behind the charts
function capsule(x, y0, y1, w, fill, bands) {
  const id = 'c' + Math.round(x) + '_' + Math.round(y0);
  return `<clipPath id="${id}"><rect x="${x - w / 2}" y="${y0}" width="${w}" height="${y1 - y0}" rx="${w / 2}" ry="${w / 1.4}"/></clipPath>` +
    `<rect x="${x - w / 2}" y="${y0}" width="${w}" height="${y1 - y0}" rx="${w / 2}" ry="${w / 1.4}" fill="${fill}"/>` +
    `<g clip-path="url(#${id})">` + bands.map(b => `<rect x="${x - w / 2}" y="${b[0]}" width="${w}" height="${b[1] - b[0]}" fill="${b[2]}"/>`).join('') + '</g>' +
    `<rect x="${x - w / 2}" y="${y0}" width="${w}" height="${y1 - y0}" rx="${w / 2}" ry="${w / 1.4}" fill="none" stroke="#111" stroke-width="3"/>`;
}
const D4 = '#1C2E1C', K = '#1A0A0A';
document.getElementById('art').innerHTML = `
  <defs>
    <filter id="sh" x="-5%" y="-20%" width="110%" height="160%"><feDropShadow dx="0" dy="20" stdDeviation="13" flood-color="#000" flood-opacity=".55"/></filter>
    <linearGradient id="gg" gradientUnits="userSpaceOnUse" x1="0" y1="1100" x2="0" y2="1585">
      <stop offset="0" stop-color="#fff"/><stop offset=".25" stop-color="#CBE4BF"/><stop offset=".6" stop-color="#92C77A"/><stop offset=".8" stop-color="#6CB451"/><stop offset="1" stop-color="#4FA52E"/>
    </linearGradient>
    <linearGradient id="rg" gradientUnits="userSpaceOnUse" x1="0" y1="1290" x2="0" y2="1585">
      <stop offset="0" stop-color="#fff"/><stop offset=".25" stop-color="#FFC4C4"/><stop offset=".68" stop-color="#FF5A5A"/><stop offset="1" stop-color="#FF0000"/>
    </linearGradient>
  </defs>
  <path d="M1762 1206V1383H3342V1426L3466 1362L3342 1298V1340H1810V1206Z" fill="#D44558" filter="url(#sh)"/>
  <path d="M581 1206V1508H2533V1551L2660 1487L2533 1424V1465H631V1206Z" fill="#3CAF48" filter="url(#sh)"/>
  <path d="M2708 1100H2863V1490L3090 1585H2483L2708 1490Z" fill="url(#gg)"/>
  <path d="M3495 1290H3643V1490L3871 1585H3265L3495 1490Z" fill="url(#rg)"/>
  ${capsule(2756, 1165, 1256, 44, '#9BE89B', [[1187,1207,D4],[1214,1224,D4],[1231,1240,D4]])}
  ${capsule(2828, 1165, 1254, 44, '#9BE89B', [[1187,1205,D4],[1214,1222,D4],[1232,1240,D4]])}
  ${capsule(2756, 1258, 1503, 44, '#9BE89B', [[1286,1305,D4],[1313,1332,D4],[1339,1357,D4],[1364,1388,D4],[1400,1426,D4],[1438,1445,D4],[1449,1466,D4],[1472,1481,D4]])}
  ${capsule(3534, 1340, 1390, 44, '#F76A6A', [[1362,1370,K]])}
  ${capsule(3534, 1391, 1484, 44, '#F76A6A', [[1453,1466,K]])}
  ${capsule(3609, 1390, 1484, 44, '#F76A6A', [[1453,1466,K]])}
  <rect x="2331" y="1592" width="1557" height="607" fill="none" stroke="#F5F50A" stroke-width="10"/>
  <rect x="2331" y="2212" width="1557" height="610" fill="none" stroke="#00FFFF" stroke-width="10"/>
  <g stroke="#111" stroke-width="4">
    <path d="M2454 499L2497 484M2454 519L2497 506"/>
    <path d="M3865 499L3911 484M3865 519L3911 506"/>
  </g>`;
</script>
</body>
</html>
